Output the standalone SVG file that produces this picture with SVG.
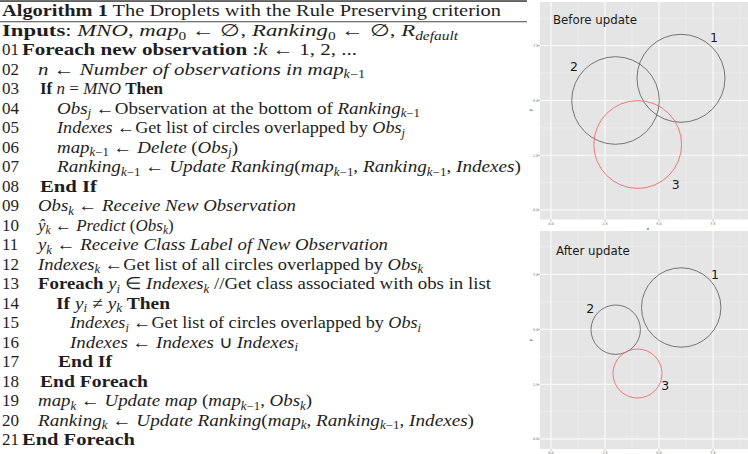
<svg xmlns="http://www.w3.org/2000/svg" width="748" height="454" viewBox="0 0 748 454">
<style>
  .alg{font-family:"Liberation Serif","Times New Roman",serif;font-size:17px;fill:#1e1e1e}
  .i{font-style:italic}
  .b{font-weight:bold}
  .s{font-size:11.5px}
  .rule{fill:#1a1a1a}
  .panel{fill:#e5e5e5}
  .major{stroke:#ffffff;stroke-width:0.9}
  .minor{stroke:#f3f3f3;stroke-width:0.5}
  .tk{stroke:#555555;stroke-width:0.4}
  .c{fill:none;stroke:#585858;stroke-width:0.8}
  .cr{fill:none;stroke:#f26b6b;stroke-width:0.9}
  .tick{font-family:"DejaVu Sans",sans-serif;font-size:3.4px;fill:#555555}
  .tickx{font-family:"DejaVu Sans",sans-serif;font-size:3.4px;fill:#555555;text-anchor:middle}
  .axt{font-family:"DejaVu Sans",sans-serif;font-size:4px;fill:#222222;text-anchor:middle}
  .lab{font-family:"DejaVu Sans",sans-serif;font-size:11.8px;fill:#1a1a1a}
  .num{font-family:"DejaVu Sans",sans-serif;font-size:12.5px;fill:#1a1a1a;text-anchor:middle}
</style>

<rect width="748" height="454" fill="#ffffff"/>

<!-- algorithm listing -->
<g id="algorithm">
  <rect class="rule" x="0" y="0.4" width="527" height="1.3"/>
  <rect class="rule" x="0" y="21.4" width="527" height="0.8"/>
  <text class="alg" x="2" y="16" textLength="499" lengthAdjust="spacingAndGlyphs"><tspan class="b">Algorithm 1</tspan> The Droplets with the Rule Preserving criterion</text>

  <text class="alg" x="2" y="36" textLength="456" lengthAdjust="spacingAndGlyphs"><tspan class="b">Inputs</tspan>: <tspan class="i">MNO</tspan>, <tspan class="i">map</tspan><tspan class="s" dy="3.5">0</tspan><tspan dy="-3.5"> ← ∅, </tspan><tspan class="i">Ranking</tspan><tspan class="s" dy="3.5">0</tspan><tspan dy="-3.5"> ← ∅, </tspan><tspan class="i">R</tspan><tspan class="s i" dy="3.5">default</tspan></text>

  <g id="line-numbers" class="alg">
    <text x="2" y="55">01</text>
    <text x="2" y="74.5">02</text>
    <text x="2" y="94">03</text>
    <text x="2" y="113.5">04</text>
    <text x="2" y="133">05</text>
    <text x="2" y="152.5">06</text>
    <text x="2" y="172">07</text>
    <text x="2" y="191.5">08</text>
    <text x="2" y="211">09</text>
    <text x="2" y="230.5">10</text>
    <text x="2" y="250">11</text>
    <text x="2" y="269.5">12</text>
    <text x="2" y="289">13</text>
    <text x="2" y="308.5">14</text>
    <text x="2" y="328">15</text>
    <text x="2" y="347.5">16</text>
    <text x="2" y="367">17</text>
    <text x="2" y="386.5">18</text>
    <text x="2" y="406">19</text>
    <text x="2" y="425.5">20</text>
    <text x="2" y="445">21</text>
  </g>

  <text class="alg" x="22" y="55" textLength="335" lengthAdjust="spacingAndGlyphs"><tspan class="b">Foreach new observation</tspan> :<tspan class="i">k</tspan> ← 1, 2, ...</text>
  <text class="alg" x="38" y="74.5" textLength="327" lengthAdjust="spacingAndGlyphs"><tspan class="i">n</tspan> ← <tspan class="i">Number of observations in map</tspan><tspan class="s i" dy="3.5">k</tspan><tspan class="s">−1</tspan></text>
  <text class="alg" x="40" y="94"><tspan class="b">If</tspan> <tspan class="i">n</tspan> = <tspan class="i">MNO</tspan> <tspan class="b">Then</tspan></text>
  <text class="alg" x="57" y="113.5" textLength="363" lengthAdjust="spacingAndGlyphs"><tspan class="i">Obs</tspan><tspan class="s i" dy="3.5">j</tspan><tspan dy="-3.5"> ←Observation at the bottom of </tspan><tspan class="i">Ranking</tspan><tspan class="s i" dy="3.5">k</tspan><tspan class="s">−1</tspan></text>
  <text class="alg" x="57" y="133" textLength="348" lengthAdjust="spacingAndGlyphs"><tspan class="i">Indexes</tspan> ←Get list of circles overlapped by <tspan class="i">Obs</tspan><tspan class="s i" dy="3.5">j</tspan></text>
  <text class="alg" x="57" y="152.5" textLength="181" lengthAdjust="spacingAndGlyphs"><tspan class="i">map</tspan><tspan class="s i" dy="3.5">k</tspan><tspan class="s">−1</tspan><tspan dy="-3.5"> ← </tspan><tspan class="i">Delete</tspan> (<tspan class="i">Obs</tspan><tspan class="s i" dy="3.5">j</tspan><tspan dy="-3.5">)</tspan></text>
  <text class="alg" x="57" y="172" textLength="464" lengthAdjust="spacingAndGlyphs"><tspan class="i">Ranking</tspan><tspan class="s i" dy="3.5">k</tspan><tspan class="s">−1</tspan><tspan dy="-3.5"> ← </tspan><tspan class="i">Update Ranking</tspan>(<tspan class="i">map</tspan><tspan class="s i" dy="3.5">k</tspan><tspan class="s">−1</tspan><tspan dy="-3.5">, </tspan><tspan class="i">Ranking</tspan><tspan class="s i" dy="3.5">k</tspan><tspan class="s">−1</tspan><tspan dy="-3.5">, </tspan><tspan class="i">Indexes</tspan>)</text>
  <text class="alg b" x="40" y="191.5" textLength="57" lengthAdjust="spacingAndGlyphs">End If</text>
  <text class="alg" x="38" y="211" textLength="258" lengthAdjust="spacingAndGlyphs"><tspan class="i">Obs</tspan><tspan class="s i" dy="3.5">k</tspan><tspan dy="-3.5"> ← </tspan><tspan class="i">Receive New Observation</tspan></text>
  <text class="alg" x="38" y="230.5"><tspan class="i">ŷ</tspan><tspan class="s i" dy="3.5">k</tspan><tspan dy="-3.5"> ← </tspan><tspan class="i">Predict</tspan> (<tspan class="i">Obs</tspan><tspan class="s i" dy="3.5">k</tspan><tspan dy="-3.5">)</tspan></text>
  <text class="alg" x="38" y="250" textLength="350" lengthAdjust="spacingAndGlyphs"><tspan class="i">y</tspan><tspan class="s i" dy="3.5">k</tspan><tspan dy="-3.5"> ← </tspan><tspan class="i">Receive Class Label of New Observation</tspan></text>
  <text class="alg" x="38" y="269.5" textLength="385" lengthAdjust="spacingAndGlyphs"><tspan class="i">Indexes</tspan><tspan class="s i" dy="3.5">k</tspan><tspan dy="-3.5"> ←Get list of all circles overlapped by </tspan><tspan class="i">Obs</tspan><tspan class="s i" dy="3.5">k</tspan></text>
  <text class="alg" x="38" y="289" textLength="453" lengthAdjust="spacingAndGlyphs"><tspan class="b">Foreach</tspan> <tspan class="i">y</tspan><tspan class="s i" dy="3.5">i</tspan><tspan dy="-3.5"> ∈ </tspan><tspan class="i">Indexes</tspan><tspan class="s i" dy="3.5">k</tspan><tspan dy="-3.5"> //Get class associated with obs in list</tspan></text>
  <text class="alg" x="56" y="308.5" textLength="114" lengthAdjust="spacingAndGlyphs"><tspan class="b">If</tspan> <tspan class="i">y</tspan><tspan class="s i" dy="3.5">i</tspan><tspan dy="-3.5"> ≠ </tspan><tspan class="i">y</tspan><tspan class="s i" dy="3.5">k</tspan><tspan class="b" dy="-3.5"> Then</tspan></text>
  <text class="alg" x="70" y="328" textLength="351" lengthAdjust="spacingAndGlyphs"><tspan class="i">Indexes</tspan><tspan class="s i" dy="3.5">i</tspan><tspan dy="-3.5"> ←Get list of circles overlapped by </tspan><tspan class="i">Obs</tspan><tspan class="s i" dy="3.5">i</tspan></text>
  <text class="alg" x="70" y="347.5" textLength="228" lengthAdjust="spacingAndGlyphs"><tspan class="i">Indexes</tspan> ← <tspan class="i">Indexes</tspan> ∪ <tspan class="i">Indexes</tspan><tspan class="s i" dy="3.5">i</tspan></text>
  <text class="alg b" x="58" y="367" textLength="54" lengthAdjust="spacingAndGlyphs">End If</text>
  <text class="alg b" x="40" y="386.5" textLength="108" lengthAdjust="spacingAndGlyphs">End Foreach</text>
  <text class="alg" x="38" y="406" textLength="274" lengthAdjust="spacingAndGlyphs"><tspan class="i">map</tspan><tspan class="s i" dy="3.5">k</tspan><tspan dy="-3.5"> ← </tspan><tspan class="i">Update map</tspan> (<tspan class="i">map</tspan><tspan class="s i" dy="3.5">k</tspan><tspan class="s">−1</tspan><tspan dy="-3.5">, </tspan><tspan class="i">Obs</tspan><tspan class="s i" dy="3.5">k</tspan><tspan dy="-3.5">)</tspan></text>
  <text class="alg" x="38" y="425.5" textLength="436" lengthAdjust="spacingAndGlyphs"><tspan class="i">Ranking</tspan><tspan class="s i" dy="3.5">k</tspan><tspan dy="-3.5"> ← </tspan><tspan class="i">Update Ranking</tspan>(<tspan class="i">map</tspan><tspan class="s i" dy="3.5">k</tspan><tspan dy="-3.5">, </tspan><tspan class="i">Ranking</tspan><tspan class="s i" dy="3.5">k</tspan><tspan class="s">−1</tspan><tspan dy="-3.5">, </tspan><tspan class="i">Indexes</tspan>)</text>
  <text class="alg b" x="22" y="445" textLength="113" lengthAdjust="spacingAndGlyphs">End Foreach</text>
</g>

<!-- plot: before update -->
<g id="plot-before">
  <rect class="panel" x="540" y="2" width="208" height="217.5"/>
  <g class="minor">
    <line x1="578" y1="2" x2="578" y2="219.5"/>
    <line x1="632" y1="2" x2="632" y2="219.5"/>
    <line x1="686" y1="2" x2="686" y2="219.5"/>
    <line x1="740" y1="2" x2="740" y2="219.5"/>
    <line x1="540" y1="18.3" x2="748" y2="18.3"/>
    <line x1="540" y1="73.1" x2="748" y2="73.1"/>
    <line x1="540" y1="127.9" x2="748" y2="127.9"/>
    <line x1="540" y1="182.7" x2="748" y2="182.7"/>
  </g>
  <g class="major">
    <line x1="551" y1="2" x2="551" y2="219.5"/>
    <line x1="605" y1="2" x2="605" y2="219.5"/>
    <line x1="659" y1="2" x2="659" y2="219.5"/>
    <line x1="713" y1="2" x2="713" y2="219.5"/>
    <line x1="540" y1="45.7" x2="748" y2="45.7"/>
    <line x1="540" y1="100.5" x2="748" y2="100.5"/>
    <line x1="540" y1="155.3" x2="748" y2="155.3"/>
    <line x1="540" y1="210" x2="748" y2="210"/>
  </g>
  <g class="tk">
    <line x1="538" y1="45.7" x2="540" y2="45.7"/>
    <line x1="538" y1="100.5" x2="540" y2="100.5"/>
    <line x1="538" y1="155.3" x2="540" y2="155.3"/>
    <line x1="538" y1="210" x2="540" y2="210"/>
    <line x1="551" y1="219.5" x2="551" y2="221.5"/>
    <line x1="605" y1="219.5" x2="605" y2="221.5"/>
    <line x1="659" y1="219.5" x2="659" y2="221.5"/>
    <line x1="713" y1="219.5" x2="713" y2="221.5"/>
  </g>
  <text class="tick" x="533" y="46.9">7.5</text>
  <text class="tick" x="533" y="101.7">5.0</text>
  <text class="tick" x="533" y="156.5">2.5</text>
  <text class="tick" x="533" y="211.2">0.0</text>
  <text class="tickx" x="551" y="224.8">0.0</text>
  <text class="tickx" x="605" y="224.8">2.5</text>
  <text class="tickx" x="659" y="224.8">5.0</text>
  <text class="tickx" x="713" y="224.8">7.5</text>
  <text class="axt" x="648" y="230">x</text>
  <text class="axt" transform="translate(532 110) rotate(-90)">y</text>

  <text class="lab" x="553" y="23.5">Before update</text>
  <circle class="c" cx="681" cy="78.3" r="44"/>
  <circle class="c" cx="615.5" cy="100.5" r="43.8"/>
  <circle class="cr" cx="637.7" cy="144.5" r="43.9"/>
  <text class="num" x="714" y="42.3">1</text>
  <text class="num" x="574" y="70.5">2</text>
  <text class="num" x="675.7" y="188.8">3</text>
</g>

<!-- plot: after update -->
<g id="plot-after">
  <rect class="panel" x="540" y="231" width="208" height="218"/>
  <g class="minor">
    <line x1="578" y1="231" x2="578" y2="449"/>
    <line x1="632" y1="231" x2="632" y2="449"/>
    <line x1="686" y1="231" x2="686" y2="449"/>
    <line x1="740" y1="231" x2="740" y2="449"/>
    <line x1="540" y1="246.8" x2="748" y2="246.8"/>
    <line x1="540" y1="301.8" x2="748" y2="301.8"/>
    <line x1="540" y1="356.8" x2="748" y2="356.8"/>
    <line x1="540" y1="411.7" x2="748" y2="411.7"/>
  </g>
  <g class="major">
    <line x1="551" y1="231" x2="551" y2="449"/>
    <line x1="605" y1="231" x2="605" y2="449"/>
    <line x1="659" y1="231" x2="659" y2="449"/>
    <line x1="713" y1="231" x2="713" y2="449"/>
    <line x1="540" y1="274.3" x2="748" y2="274.3"/>
    <line x1="540" y1="329.3" x2="748" y2="329.3"/>
    <line x1="540" y1="384.3" x2="748" y2="384.3"/>
    <line x1="540" y1="439" x2="748" y2="439"/>
  </g>
  <g class="tk">
    <line x1="538" y1="274.3" x2="540" y2="274.3"/>
    <line x1="538" y1="329.3" x2="540" y2="329.3"/>
    <line x1="538" y1="384.3" x2="540" y2="384.3"/>
    <line x1="538" y1="439" x2="540" y2="439"/>
    <line x1="551" y1="449" x2="551" y2="451"/>
    <line x1="605" y1="449" x2="605" y2="451"/>
    <line x1="659" y1="449" x2="659" y2="451"/>
    <line x1="713" y1="449" x2="713" y2="451"/>
  </g>
  <text class="tick" x="533" y="275.5">7.5</text>
  <text class="tick" x="533" y="330.5">5.0</text>
  <text class="tick" x="533" y="385.5">2.5</text>
  <text class="tick" x="533" y="440.2">0.0</text>
  <text class="tickx" x="551" y="454">0.0</text>
  <text class="tickx" x="605" y="454">2.5</text>
  <text class="tickx" x="659" y="454">5.0</text>
  <text class="tickx" x="713" y="454">7.5</text>
  <text class="axt" transform="translate(532 340) rotate(-90)">y</text>

  <text class="lab" x="556" y="254.5">After update</text>
  <circle class="c" cx="681.2" cy="307.5" r="39.7"/>
  <circle class="c" cx="615.7" cy="329.7" r="24.7"/>
  <circle class="cr" cx="637.5" cy="373.5" r="24.5"/>
  <text class="num" x="715" y="278.5">1</text>
  <text class="num" x="590.3" y="312.8">2</text>
  <text class="num" x="665.3" y="390.2">3</text>
</g>
</svg>
